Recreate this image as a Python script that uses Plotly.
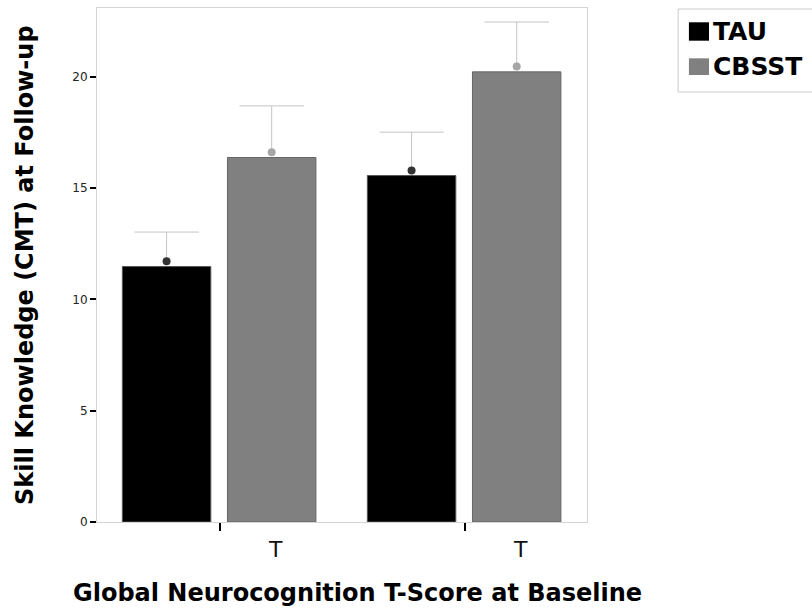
import plotly.graph_objects as go

groups = [0, 1]
group_labels = ["T", "T"]
series_names = ["TAU", "CBSST"]
tau_bar = [11.48, 15.57]
cbsst_bar = [16.38, 20.23]
tau_mean = [11.72, 15.80]
cbsst_mean = [16.62, 20.47]
tau_err = [1.31, 1.72]
cbsst_err = [2.08, 2.00]
y_ticks = [0, 5, 10, 15, 20]

BAR_W = 0.361
OFF_TAU = -0.216
OFF_CB = 0.213
FONT = "DejaVu Sans, sans-serif"
ERR_COLOR = "#c4c4c4"

fig = go.Figure()
fig.add_trace(go.Bar(x=groups, y=tau_bar, width=BAR_W, offset=OFF_TAU - BAR_W / 2,
                     marker=dict(color="#000000", line=dict(color="#555555", width=1)),
                     name=series_names[0], showlegend=False))
fig.add_trace(go.Bar(x=groups, y=cbsst_bar, width=BAR_W, offset=OFF_CB - BAR_W / 2,
                     marker=dict(color="#808080", line=dict(color="#666666", width=1)),
                     name=series_names[1], showlegend=False))


def add_upper_error(xs, means, errs, mcolor):
    sx, sy = [], []
    for x, m, e in zip(xs, means, errs):
        sx += [x, x, None]
        sy += [m, m + e, None]
    fig.add_trace(go.Scatter(x=sx, y=sy, mode="lines", line=dict(color=ERR_COLOR, width=1),
                             hoverinfo="skip", showlegend=False))
    fig.add_trace(go.Scatter(x=xs, y=[m + e for m, e in zip(means, errs)], mode="markers",
                             marker=dict(symbol="line-ew-open", size=46, color=ERR_COLOR,
                                         line=dict(color=ERR_COLOR, width=1)),
                             hoverinfo="skip", showlegend=False))
    fig.add_trace(go.Scatter(x=xs, y=means, mode="markers",
                             marker=dict(color=mcolor, size=8, symbol="circle"),
                             showlegend=False))


add_upper_error([g + OFF_TAU for g in groups], tau_mean, tau_err, "#333333")
add_upper_error([g + OFF_CB for g in groups], cbsst_mean, cbsst_err, "#a6a6a6")

annotations = []
for g, lab in zip(groups, group_labels):
    annotations.append(dict(x=g + 0.23, y=-0.054, xref="x", yref="paper", text=lab,
                            showarrow=False, font=dict(family=FONT, size=22, color="#111111"),
                            xanchor="center", yanchor="middle"))
annotations.append(dict(x=0.531, y=-0.138, xref="paper", yref="paper",
                        text="<b>Global Neurocognition T-Score at Baseline</b>", showarrow=False,
                        font=dict(family=FONT, size=24, color="#000000"),
                        xanchor="center", yanchor="middle"))
annotations.append(dict(x=-0.147, y=0.5, xref="paper", yref="paper", textangle=-90,
                        text="<b>Skill Knowledge (CMT) at Follow-up</b>", showarrow=False,
                        font=dict(family=FONT, size=24, color="#000000"),
                        xanchor="center", yanchor="middle"))

# legend (drawn manually)
shapes = [
    dict(type="rect", xref="paper", yref="paper", x0=1.186, x1=1.47, y0=0.8366, y1=0.998,
         line=dict(color="#cccccc", width=1), fillcolor="white"),
    dict(type="rect", xref="paper", yref="paper", x0=1.208, x1=1.249, y0=0.9364, y1=0.9722,
         line=dict(width=0), fillcolor="#000000"),
    dict(type="rect", xref="paper", yref="paper", x0=1.208, x1=1.249, y0=0.8696, y1=0.9021,
         line=dict(width=0), fillcolor="#808080"),
]
annotations.append(dict(x=1.253, y=0.9543, xref="paper", yref="paper", text="<b>" + series_names[0] + "</b>",
                        showarrow=False, xanchor="left", yanchor="middle",
                        font=dict(family=FONT, size=25, color="#000000")))
annotations.append(dict(x=1.253, y=0.8858, xref="paper", yref="paper", text="<b>" + series_names[1] + "</b>",
                        showarrow=False, xanchor="left", yanchor="middle",
                        font=dict(family=FONT, size=25, color="#000000")))

fig.update_layout(
    width=812, height=612,
    margin=dict(l=97, r=225, t=8, b=90, autoexpand=False),
    paper_bgcolor="white", plot_bgcolor="white",
    barmode="overlay",
    showlegend=False,
    annotations=annotations,
    shapes=shapes,
    xaxis=dict(range=[-0.5, 1.5], tickvals=groups, ticktext=["", ""], ticks="outside",
               ticklen=8, tickwidth=2, tickcolor="#000000", showgrid=False, zeroline=False,
               showline=True, linecolor="#d4d4d4", linewidth=1, mirror=True),
    yaxis=dict(range=[0, 23.1], tickvals=y_ticks, ticks="outside", ticklen=6, tickwidth=2,
               tickcolor="#000000", showgrid=False, zeroline=False,
               showline=True, linecolor="#d4d4d4", linewidth=1, mirror=True,
               tickfont=dict(family=FONT, size=12, color="#222222")),
)

fig.write_html("out.html")
